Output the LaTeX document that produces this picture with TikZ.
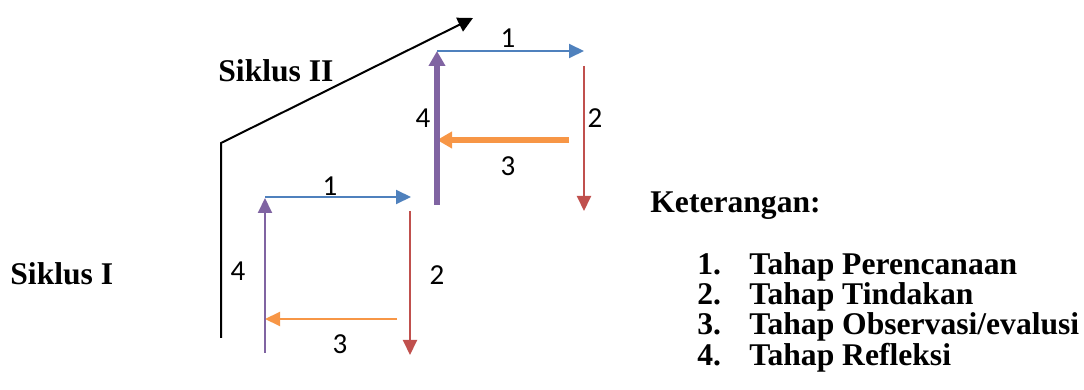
\documentclass[tikz,border=0pt]{standalone}
\usepackage{fontspec}
\setmainfont{Liberation Serif}
\newfontfamily\numfont{Carlito}
\usetikzlibrary{arrows.meta}

\definecolor{stepblue}{HTML}{4F81BD}
\definecolor{stepred}{HTML}{C0504D}
\definecolor{steporange}{HTML}{F79646}
\definecolor{steppurple}{HTML}{8064A2}

\tikzset{
  thinarrow/.style={line width=1pt, -{Triangle[length=7.5pt, width=7pt]}},
  thickarrow/.style={line width=3pt, -{Triangle[length=7.5pt, width=8pt]}},
  numlabel/.style={font=\numfont\fontsize{14.5}{17}\selectfont, inner sep=0pt},
  boldtext/.style={font=\bfseries\fontsize{15.8}{18}\selectfont, inner sep=0pt, anchor=base west}
}

\begin{document}
\begin{tikzpicture}[x=0.5pt, y=-0.5pt]
  \useasboundingbox (0,0) rectangle (1084,390);

  % cycle II track
  \coordinate (base) at (221,338);
  \coordinate (corner) at (221,143);
  \coordinate (top) at (473,18);
  \draw[line width=1pt, -{Triangle[length=7.5pt, width=7.5pt]}] (base) -- (corner) -- (top);

  % cycle I
  \coordinate (a1) at (265,197);
  \coordinate (a1e) at (411,197);
  \coordinate (a2) at (410,211);
  \coordinate (a2e) at (410,355);
  \coordinate (a3) at (397,319);
  \coordinate (a3e) at (265,319);
  \coordinate (a4) at (265,353);
  \coordinate (a4e) at (265,198);
  \draw[thinarrow, stepblue] (a1) -- (a1e);
  \draw[thinarrow, stepred] (a2) -- (a2e);
  \draw[thinarrow, steporange] (a3) -- (a3e);
  \draw[thinarrow, steppurple] (a4) -- (a4e);
  \node[numlabel] (n1a) at (330,186) {1};
  \node[numlabel] (n2a) at (437,275) {2};
  \node[numlabel] (n3a) at (340,344) {3};
  \node[numlabel] (n4a) at (238,271) {4};

  % cycle II
  \coordinate (b1) at (437,51);
  \coordinate (b1e) at (584,51);
  \coordinate (b2) at (584,66);
  \coordinate (b2e) at (584,211);
  \coordinate (b3) at (569,140);
  \coordinate (b3e) at (437,140);
  \coordinate (b4) at (437,205);
  \coordinate (b4e) at (437,51);
  \draw[thinarrow, stepblue] (b1) -- (b1e);
  \draw[thinarrow, stepred] (b2) -- (b2e);
  \draw[thickarrow, steporange] (b3) -- (b3e);
  \draw[thickarrow, steppurple] (b4) -- (b4e);
  \node[numlabel] (n1b) at (508,38) {1};
  \node[numlabel] (n2b) at (595,118) {2};
  \node[numlabel] (n3b) at (508,166) {3};
  \node[numlabel] (n4b) at (423,118) {4};

  % texts
  \node[boldtext] (siklusB) at (218,82) {Siklus II};
  \node[boldtext] (siklusA) at (10,285) {Siklus I};
  \node[boldtext] (ket) at (650,213) {Keterangan:};
  \foreach \i/\t [count=\k from 0] in {1/Perencanaan, 2/Tindakan, 3/{Observasi/evalusi}, 4/Refleksi} {
    \node[boldtext] (num\i) at (697,{275+30*\k}) {\i.};
    \node[boldtext] (item\i) at (749,{275+30*\k}) {Tahap \t};
  }
\end{tikzpicture}
\end{document}
